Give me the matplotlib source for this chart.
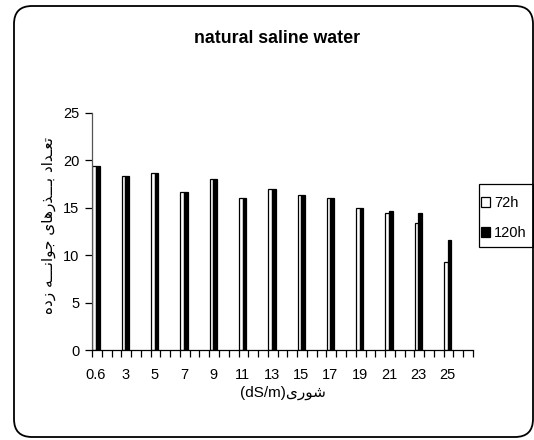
import matplotlib
matplotlib.use("Agg")
import matplotlib.pyplot as plt
import numpy as np
from matplotlib.patches import FancyBboxPatch, Patch, Rectangle
from matplotlib.transforms import IdentityTransform

# ---- data -------------------------------------------------------------
salinity = ["0.6", "3", "5", "7", "9", "11", "13", "15", "17", "19", "21", "23", "25"]
germ_72h = [19.4, 18.4, 18.7, 16.7, 18.0, 16.0, 17.0, 16.4, 16.0, 15.0, 14.4, 13.4, 9.3]
germ_120h = [19.4, 18.4, 18.7, 16.7, 18.0, 16.0, 17.0, 16.4, 16.0, 15.0, 14.7, 14.4, 11.6]
series_names = ["72h", "120h"]
title = "natural saline water"
ylabel_fa = "تعـداد بـــذرهای جوانـــه زده"
xlabel_fa = "شوری"
xlabel_unit = "(dS/m)"

# ---- minimal Arabic-script shaping (contextual forms + visual order) ---
# letter: (isolated, final, initial, medial); None = does not join forward
FORMS = {
    "ا": ("\uFE8D", "\uFE8E", None, None),
    "ب": ("\uFE8F", "\uFE90", "\uFE91", "\uFE92"),
    "ت": ("\uFE95", "\uFE96", "\uFE97", "\uFE98"),
    "ج": ("\uFE9D", "\uFE9E", "\uFE9F", "\uFEA0"),
    "د": ("\uFEA9", "\uFEAA", None, None),
    "ذ": ("\uFEAB", "\uFEAC", None, None),
    "ر": ("\uFEAD", "\uFEAE", None, None),
    "ز": ("\uFEAF", "\uFEB0", None, None),
    "ش": ("\uFEB5", "\uFEB6", "\uFEB7", "\uFEB8"),
    "ع": ("\uFEC9", "\uFECA", "\uFECB", "\uFECC"),
    "ن": ("\uFEE5", "\uFEE6", "\uFEE7", "\uFEE8"),
    "ه": ("\uFEE9", "\uFEEA", "\uFEEB", "\uFEEC"),
    "و": ("\uFEED", "\uFEEE", None, None),
    "ی": ("\uFEEF", "\uFEF0", "\uFEF3", "\uFEF4"),
    "ـ": ("\u0640", "\u0640", "\u0640", "\u0640"),
}


def joins_forward(ch):
    return ch in FORMS and FORMS[ch][2] is not None


def joins(ch):
    return ch in FORMS


def shape(text):
    out = []
    for i, ch in enumerate(text):
        if ch not in FORMS:
            out.append(ch)
            continue
        prev_c = text[i - 1] if i > 0 else ""
        next_c = text[i + 1] if i + 1 < len(text) else ""
        p = joins_forward(prev_c)
        n = joins_forward(ch) and joins(next_c)
        iso, fin, ini, med = FORMS[ch]
        if p and n:
            out.append(med)
        elif p:
            out.append(fin)
        elif n:
            out.append(ini)
        else:
            out.append(iso)
    return "".join(reversed(out))


# ---- figure -----------------------------------------------------------
W, H, DPI = 534, 440, 100
fig = plt.figure(figsize=(W / DPI, H / DPI), dpi=DPI)
fig.patch.set_facecolor("white")

LAT = ["Liberation Sans", "DejaVu Sans"]
FS = 10.5

ax = fig.add_axes([92 / W, 1 - 350 / H, (473 - 92) / W, (350 - 113) / H])
x = np.arange(len(salinity))
bw = 0.125
ax.bar(x - bw / 2, germ_72h, width=bw, color="white", edgecolor="black",
       linewidth=0.9, label=series_names[0])
ax.bar(x + bw / 2, germ_120h, width=bw, color="black", edgecolor="black",
       linewidth=0.9, label=series_names[1])

x0 = -0.137
ax.set_xlim(x0, x0 + len(salinity))
ax.set_ylim(0, 25)
ax.set_yticks([0, 5, 10, 15, 20, 25])
ax.set_xticks(x0 + np.arange(0, 3 * len(salinity) + 1) / 3.0)
ax.set_xticklabels([])
ax.tick_params(axis="x", direction="out", length=5, width=0.9, color="black")
ax.tick_params(axis="y", direction="out", length=5, width=0.9, color="black",
               labelsize=FS, pad=4)
for lab in ax.get_yticklabels():
    lab.set_family(LAT)
for i, s in enumerate(salinity):
    ax.text(x[i], -2.6, s, ha="center", va="center", fontsize=FS, family=LAT)

for side in ("top", "right"):
    ax.spines[side].set_visible(False)
ax.spines["left"].set_linewidth(0.9)
ax.spines["left"].set_color("#555555")
ax.spines["bottom"].set_linewidth(0.9)

# titles and axis labels
fig.text(277 / W, 1 - 38 / H, title, ha="center", va="center",
         fontsize=12.8, fontweight="bold", family=LAT)
fig.text(49 / W, 1 - 225 / H, shape(ylabel_fa), rotation=90, ha="center",
         va="center", fontsize=11, family=["DejaVu Sans"])
fig.text(283 / W, 1 - 393 / H, xlabel_unit + shape(xlabel_fa), ha="center",
         va="center", fontsize=FS + 0.5, family=LAT)

# legend: box drawn in pixel space, entries placed inside it
box = Rectangle((479, H - 247), 54, 63, transform=IdentityTransform(),
                facecolor="white", edgecolor="black", linewidth=0.9)
fig.add_artist(box)
handles = [Patch(facecolor="white", edgecolor="black", linewidth=0.9),
           Patch(facecolor="black", edgecolor="black", linewidth=0.9)]
leg = fig.legend(handles, series_names, loc="center left",
                 bbox_to_anchor=(481 / W, 1 - 218 / H),
                 bbox_transform=fig.transFigure, frameon=False,
                 borderaxespad=0, borderpad=0,
                 handlelength=0.65, handleheight=0.65, handletextpad=0.25,
                 labelspacing=1.1, prop={"family": LAT, "size": FS})

# rounded outer border
frame = FancyBboxPatch((14, 3), 519, 431,
                       boxstyle="round,pad=0,rounding_size=18",
                       transform=IdentityTransform(), facecolor="none",
                       edgecolor="black", linewidth=1.3)
fig.add_artist(frame)

fig.savefig("out.png", dpi=DPI)
